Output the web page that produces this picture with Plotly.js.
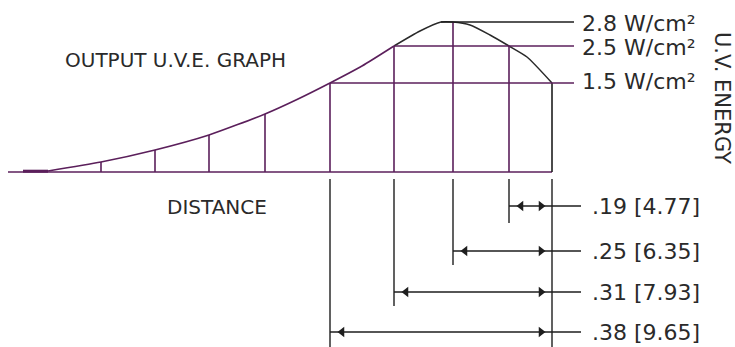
<!DOCTYPE html>
<html>
<head>
<meta charset="utf-8">
<script src="https://cdn.plot.ly/plotly-3.0.1.min.js"></script>
<style>
html,body{margin:0;padding:0;background:#fff;}
#chart{width:735px;height:347px;}
</style>
</head>
<body>
<div id="chart"></div>
<script>
// ---- Data (drawing units: x = distance along the graph, y = height above baseline) ----
const curveX = [48, 101, 155, 209, 265, 297, 330, 362, 394, 420, 441, 453, 470, 490, 509, 527, 552];
const curveY = [1, 10, 22, 37, 58, 72.5, 89, 106, 126, 141, 150, 150, 147, 137, 126, 115, 89];
const curveSplit = 394;

const gridX = [101, 155, 209, 265, 330, 394, 453, 509, 552];
const gridTop = [10, 22, 37, 58, 89, 126, 150, 126, 89];

const baseStart = 8;
const baseEnd = 552;
const thickStart = 23;
const thickEnd = 48;

const levelLabels = ['2.8 W/cm²', '2.5 W/cm²', '1.5 W/cm²'];
const levelValue = [150, 126, 89];
const levelStart = [441, 394, 330];
const levelLeaderEnd = 574;

const dimLabels = ['.19 [4.77]', '.25 [6.35]', '.31 [7.93]', '.38 [9.65]'];
const dimStart = [509, 453, 394, 330];
const dimLevel = [-34, -79, -120, -160];
const dimExtEnd = [-51, -93, -134, -175];
const dimRef = 552;
const dimRefEnd = -175;
const extTop = -7;
const dimLeaderEnd = 581;

const titleText = 'OUTPUT U.V.E. GRAPH';
const xLabel = 'DISTANCE';
const yLabel = 'U.V. ENERGY';

// ---- Styles ----
const PURPLE = '#5b1f5b';
const BLACK = '#1e1e1e';
const TXT = '#2a2a2a';
const FONT = 'DejaVu Sans, Verdana, sans-serif';

function segs(pairs) {
  const x = [], y = [];
  pairs.forEach(p => { x.push(p[0], p[2], null); y.push(p[1], p[3], null); });
  return {x, y};
}

const traces = [];
function addLine(s, color, width) {
  traces.push({type: 'scatter', mode: 'lines', x: s.x, y: s.y,
    line: {color: color, width: width || 1.6}, hoverinfo: 'skip', showlegend: false});
}

// baseline
addLine(segs([[baseStart, 0, baseEnd, 0]]), PURPLE);
addLine(segs([[thickStart, 0.8, thickEnd, 0.8]]), PURPLE, 3);

// curve: purple left part, dark right part
const li = curveX.indexOf(curveSplit);
traces.push({type: 'scatter', mode: 'lines', x: curveX.slice(0, li + 1), y: curveY.slice(0, li + 1),
  line: {color: PURPLE, width: 1.6, shape: 'spline', smoothing: 0.6}, hoverinfo: 'skip', showlegend: false});
traces.push({type: 'scatter', mode: 'lines', x: curveX.slice(li), y: curveY.slice(li),
  line: {color: '#2a2a2a', width: 1.5, shape: 'spline', smoothing: 0.6}, hoverinfo: 'skip', showlegend: false});

// vertical grid lines
addLine(segs(gridX.slice(0, -1).map((x, i) => [x, 0, x, gridTop[i]])), PURPLE);
addLine(segs([[gridX[gridX.length - 1], 0, gridX[gridX.length - 1], gridTop[gridTop.length - 1]]]), BLACK);

// level lines
levelValue.forEach((v, i) => {
  addLine(segs([[levelStart[i], v, levelLeaderEnd, v]]), i === 0 ? BLACK : PURPLE);
});

// extension lines
addLine(segs(dimStart.map((x, i) => [x, extTop, x, dimExtEnd[i]]).concat([[dimRef, extTop, dimRef, dimRefEnd]])), BLACK, 1.4);
// dimension lines
addLine(segs(dimStart.map((x, i) => [x, dimLevel[i], dimLeaderEnd, dimLevel[i]])), BLACK, 1.4);

// arrowheads
traces.push({type: 'scatter', mode: 'markers', x: dimStart.map(x => x + 12), y: dimLevel,
  marker: {symbol: 'triangle-left', size: 9, color: BLACK}, hoverinfo: 'skip', showlegend: false});
traces.push({type: 'scatter', mode: 'markers', x: dimLevel.map(() => dimRef - 11), y: dimLevel,
  marker: {symbol: 'triangle-right', size: 9, color: BLACK}, hoverinfo: 'skip', showlegend: false});

// annotations
const ann = [];
ann.push({x: 175, y: 112, text: titleText, showarrow: false, xanchor: 'center', yanchor: 'middle',
  font: {family: FONT, size: 20, color: TXT}});
ann.push({x: 217, y: -35, text: xLabel, showarrow: false, xanchor: 'center', yanchor: 'middle',
  font: {family: FONT, size: 20, color: TXT}});
ann.push({x: 722, y: 74, text: yLabel, showarrow: false, textangle: 90, xanchor: 'center', yanchor: 'middle',
  font: {family: FONT, size: 21, color: TXT}});
levelLabels.forEach((t, i) => ann.push({x: 580, y: levelValue[i] - (i === 2 ? -2 : 1), text: t, showarrow: false,
  xanchor: 'left', yanchor: 'middle', font: {family: FONT, size: 22, color: TXT}}));
dimLabels.forEach((t, i) => ann.push({x: 590, y: dimLevel[i], text: t, showarrow: false,
  xanchor: 'left', yanchor: 'middle', font: {family: FONT, size: 22, color: TXT}}));

const layout = {
  width: 735, height: 347,
  margin: {l: 0, r: 0, t: 0, b: 0, pad: 0},
  paper_bgcolor: '#fff', plot_bgcolor: '#fff',
  xaxis: {range: [0, 735], visible: false, fixedrange: true},
  yaxis: {range: [-175, 172], visible: false, fixedrange: true},
  showlegend: false, hovermode: false,
  annotations: ann
};

Plotly.newPlot('chart', traces, layout, {displayModeBar: false, staticPlot: true});
</script>
</body>
</html>
